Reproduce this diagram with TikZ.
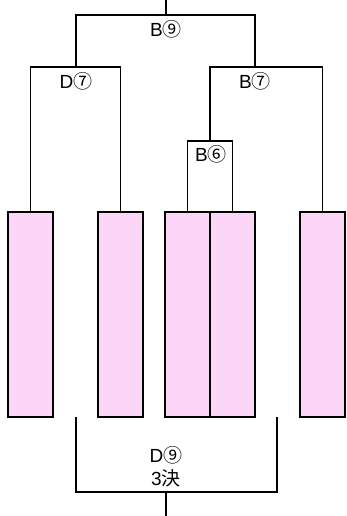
\documentclass[tikz,border=0pt]{standalone}
\usepackage{fontspec}
\setmainfont{Liberation Sans}
\newfontfamily\cjk{Noto Sans CJK JP}
\definecolor{boxpink}{HTML}{FBD6F7}
\begin{document}
\begin{tikzpicture}[x=1pt, y=-1pt, line width=1.9pt]
\tikzstyle{team}=[draw, fill=boxpink, minimum width=45pt, minimum height=205pt, inner sep=0pt]
\tikzstyle{lbl}=[draw=none, fill=none, inner sep=0pt, font=\fontsize{19}{21}\selectfont]
\useasboundingbox (0,0) rectangle (347,516);

% teams
\node[team] (T1) at (30.5,314.5) {};
\node[team] (T2) at (120.5,314.5) {};
\node[team] (T3) at (187.5,314.5) {};
\node[team] (T4) at (232.5,314.5) {};
\node[team] (T5) at (322.5,314.5) {};

% bracket points
\coordinate (top) at (166,0);
\coordinate (B9) at (166,15);
\coordinate (D7) at (76,67);
\coordinate (B7) at (255,67);
\coordinate (B6) at (210,141);
\coordinate (L9) at (76,417);
\coordinate (R9) at (277,417);
\coordinate (D9) at (166,492);
\coordinate (bot) at (166,516);

\draw (T1.north) |- (D7) -| (T2.north);
\draw (T3.north) |- (B6) -| (T4.north);
\draw (B6) |- (B7) -| (T5.north);
\draw (D7) |- (B9) -| (B7);
\draw (top) -- (B9);
\draw (L9) |- (D9) -| (R9);
\draw (D9) -- (bot);

% labels
\node[lbl] (lB9) at (166,29) {B{\cjk ⑨}};
\node[lbl] (lD7) at (76,81) {D{\cjk ⑦}};
\node[lbl] (lB7) at (255,81) {B{\cjk ⑦}};
\node[lbl] (lB6) at (211,154) {B{\cjk ⑥}};
\node[lbl] (lD9) at (166,455) {D{\cjk ⑨}};
\node[lbl] (l3) at (166,478) {3{\cjk 決}};
\end{tikzpicture}
\end{document}
